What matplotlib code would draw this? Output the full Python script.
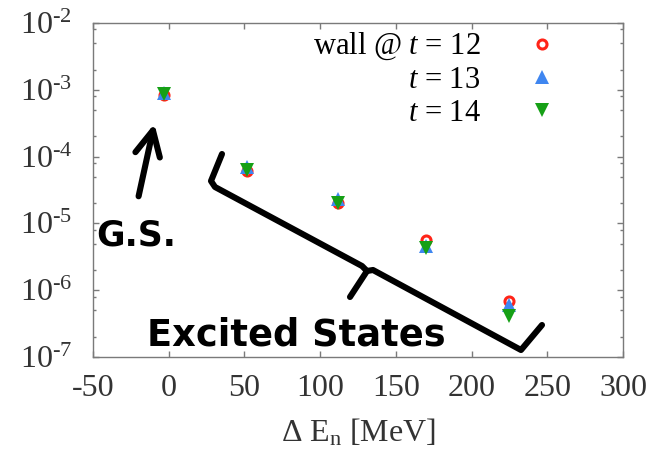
import math
import matplotlib
matplotlib.use("Agg")
import matplotlib.pyplot as plt
from matplotlib.lines import Line2D
from matplotlib.patches import FancyArrowPatch
from matplotlib.ticker import FixedLocator, LogLocator, NullFormatter, FuncFormatter

# ---- data -------------------------------------------------------------
energy = [-3, 52, 112, 170, 225]            # Delta E_n [MeV]
wall_t12 = [8.5e-4, 6.0e-5, 2.0e-5, 5.6e-6, 6.9e-7]
wall_t13 = [9.0e-4, 7.1e-5, 2.3e-5, 4.6e-6, 6.0e-7]
wall_t14 = [8.7e-4, 6.4e-5, 2.0e-5, 4.3e-6, 4.1e-7]
series_labels = [r"wall @ $t$ = 12", r"$t$ = 13", r"$t$ = 14"]
x_ticks = [-50, 0, 50, 100, 150, 200, 250, 300]
y_decades = [1e-7, 1e-6, 1e-5, 1e-4, 1e-3, 1e-2]

# ---- style ------------------------------------------------------------
plt.rcParams.update({
    "font.family": ["Liberation Serif", "DejaVu Serif"],
    "mathtext.fontset": "custom",
    "mathtext.rm": "Liberation Serif",
    "mathtext.it": "Liberation Serif:italic",
    "mathtext.bf": "Liberation Serif:bold",
    "axes.unicode_minus": False,
})

W, H = 653, 457
fig = plt.figure(figsize=(W / 100, H / 100), dpi=100)
ax = fig.add_axes([93 / W, 1 - 357 / H, (623 - 93) / W, (357 - 23) / H])

red = "#ff2418"
blue = "#3f86f0"
green = "#16a016"

ax.plot(energy, wall_t12, linestyle="none", marker="o", markersize=6.5,
        markerfacecolor="white", markeredgecolor=red, markeredgewidth=2.2,
        label=series_labels[0])
ax.plot(energy, wall_t13, linestyle="none", marker="^", markersize=9.5,
        color=blue, markeredgewidth=0, label=series_labels[1])
ax.plot(energy, wall_t14, linestyle="none", marker="v", markersize=9.5,
        color=green, markeredgewidth=0, label=series_labels[2])

ax.set_xlim(-50, 300)
ax.set_yscale("log")
ax.set_ylim(1e-7, 1e-2)

ax.xaxis.set_major_locator(FixedLocator(x_ticks))
ax.yaxis.set_major_locator(FixedLocator(y_decades))
ax.yaxis.set_minor_locator(LogLocator(base=10, subs=[2, 5, 8], numticks=20))
ax.yaxis.set_minor_formatter(NullFormatter())


def decade_label(v, pos):
    exp = int(round(math.log10(v)))
    return r"$10^{\text{%d}}$" % exp


ax.yaxis.set_major_formatter(FuncFormatter(decade_label))

spine_col = "#7a7a7a"
for sp in ax.spines.values():
    sp.set_color(spine_col)
    sp.set_linewidth(1.0)

label_col = "#333333"
ax.tick_params(which="both", direction="in", top=True, right=True,
               color=spine_col, width=1.0)
ax.tick_params(which="major", length=4.5, labelsize=23, labelcolor=label_col)
ax.tick_params(which="minor", length=2.2)
ax.tick_params(axis="x", which="major", pad=12)
ax.tick_params(axis="y", which="major", pad=15)

ax.set_xlabel(r"$\Delta\ \mathrm{E_n}$ [MeV]", fontsize=23, color=label_col,
              labelpad=10)

leg = ax.legend(loc="upper right", bbox_to_anchor=(557 / W, 1 - 31 / H),
                bbox_transform=fig.transFigure, frameon=False,
                markerfirst=False, fontsize=22, handlelength=1.0,
                handletextpad=1.5, labelspacing=0.12, borderpad=0,
                borderaxespad=0, numpoints=1)

# ---- annotations drawn on top of the figure -----------------------------
def fx(px):
    return px / W


def fy(py):
    return 1 - py / H


ink = "black"
lw_ann = 4.4

# arrow pointing at the ground state
fig.add_artist(FancyArrowPatch(
    (fx(138), fy(199)), (fx(155), fy(121)), transform=fig.transFigure,
    arrowstyle="->,head_length=1.0,head_width=0.5", mutation_scale=18,
    linewidth=lw_ann, color=ink, capstyle="round", joinstyle="round"))
fig.text(fx(96), fy(245), "G.S.", fontsize=25, fontweight="bold",
         family="DejaVu Sans", color=ink, ha="left", va="baseline")

# curly brace under the excited states
brace_left = [(222, 154), (211, 181), (215, 187), (362, 266), (367, 271),
              (350, 297)]
brace_right = [(367, 271), (373, 270), (521, 350), (542, 325)]
for seg in (brace_left, brace_right):
    fig.add_artist(Line2D([fx(p[0]) for p in seg], [fy(p[1]) for p in seg],
                          transform=fig.transFigure, color=ink, lw=lw_ann,
                          solid_capstyle="round", solid_joinstyle="round"))
fig.text(fx(147), fy(345), "Excited States", fontsize=26.5,
         fontweight="bold", family="DejaVu Sans", color=ink,
         ha="left", va="baseline")

fig.savefig("out.png", dpi=100)
